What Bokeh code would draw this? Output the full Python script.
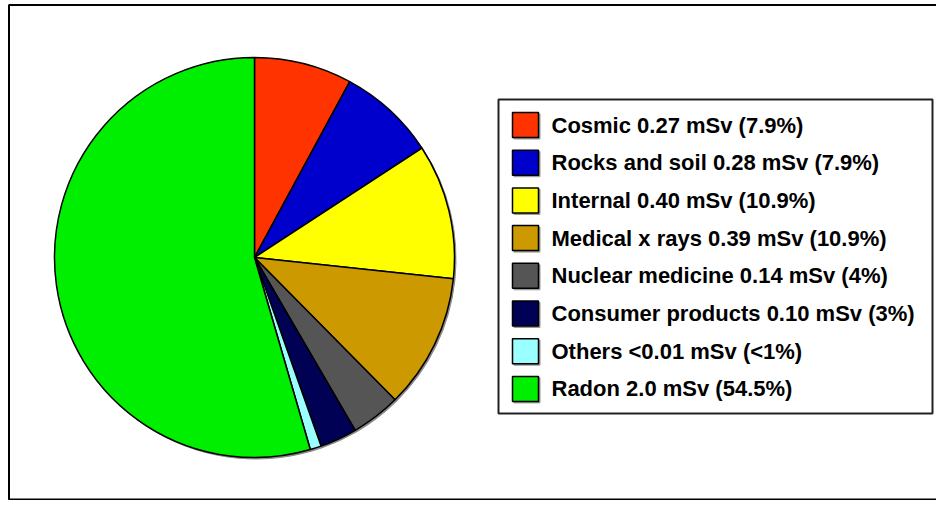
import math
from bokeh.plotting import figure
from bokeh.models import Range1d, BoxAnnotation, ColumnDataSource
from bokeh.core.properties import value
from bokeh.embed import file_html
from bokeh.resources import INLINE

# ---- data ----
categories = ["Cosmic", "Rocks and soil", "Internal", "Medical x rays",
              "Nuclear medicine", "Consumer products", "Others", "Radon"]
percent = [7.9, 7.9, 10.9, 10.9, 4.0, 3.0, 0.9, 54.5]
labels = ["Cosmic 0.27 mSv (7.9%)",
          "Rocks and soil 0.28 mSv (7.9%)",
          "Internal 0.40 mSv (10.9%)",
          "Medical x rays 0.39 mSv (10.9%)",
          "Nuclear medicine 0.14 mSv (4%)",
          "Consumer products 0.10 mSv (3%)",
          "Others <0.01 mSv (<1%)",
          "Radon 2.0 mSv (54.5%)"]
colors = ["#FF3300", "#0000CC", "#FFFF00", "#CC9900",
          "#555555", "#000055", "#99FFFF", "#00EE00"]

W, H = 936, 500
OFF = 500

def py(y):  # reference-image y -> data y
    return OFF - y

p = figure(width=W, height=H, x_range=Range1d(0, W), y_range=Range1d(0, H),
           output_backend="svg", toolbar_location=None, min_border=0,
           background_fill_color="white", border_fill_color="white")
p.axis.visible = False
p.grid.visible = False
p.outline_line_color = None

# outer frame
p.add_layout(BoxAnnotation(left=8.5, right=960, bottom=py(499), top=py(4.5),
                           fill_alpha=0, line_color="black", line_alpha=1,
                           line_width=2, level="underlay"))

# pie
total = sum(percent)
starts, ends = [], []
cum = 0.0
for v in percent:
    a0 = math.pi / 2 - 2 * math.pi * cum / total
    cum += v
    a1 = math.pi / 2 - 2 * math.pi * cum / total
    starts.append(a1)
    ends.append(a0)

cx, cy, r = 254, py(257), 200
src = ColumnDataSource(dict(start=starts, end=ends, color=colors, cat=categories))
p.wedge(x=cx + 1.5, y=cy - 1.5, radius=r, start_angle="start", end_angle="end",
        direction="anticlock", fill_color="#888888", line_color="#888888", source=src)
p.wedge(x=cx, y=cy, radius=r, start_angle="start", end_angle="end",
        direction="anticlock", fill_color="color", line_color="black",
        line_width=1.5, source=src)

# legend box
p.add_layout(BoxAnnotation(left=498, right=932, bottom=py(413), top=py(99),
                           fill_color="white", fill_alpha=1, line_color="#222222",
                           line_alpha=1, line_width=2, level="underlay"))

row0, step = 124.5, 37.7
ys = [py(row0 + i * step) for i in range(len(labels))]
lsrc = ColumnDataSource(dict(y=ys, ys=[y - 1.5 for y in ys], color=colors, label=labels))
p.rect(x=525 + 1.5, y="ys", width=26, height=25, source=lsrc,
       fill_color="#999999", line_color="#999999")
p.rect(x=525, y="y", width=26, height=25, source=lsrc,
       fill_color="color", line_color="black", line_width=1.5)
p.text(x=551, y="y", text="label", source=lsrc,
       text_font=value("Liberation Sans"), text_font_style="bold",
       text_font_size="22px", text_baseline="middle", text_align="left",
       text_color="black")

open("out.html", "w").write(file_html(p, INLINE))
